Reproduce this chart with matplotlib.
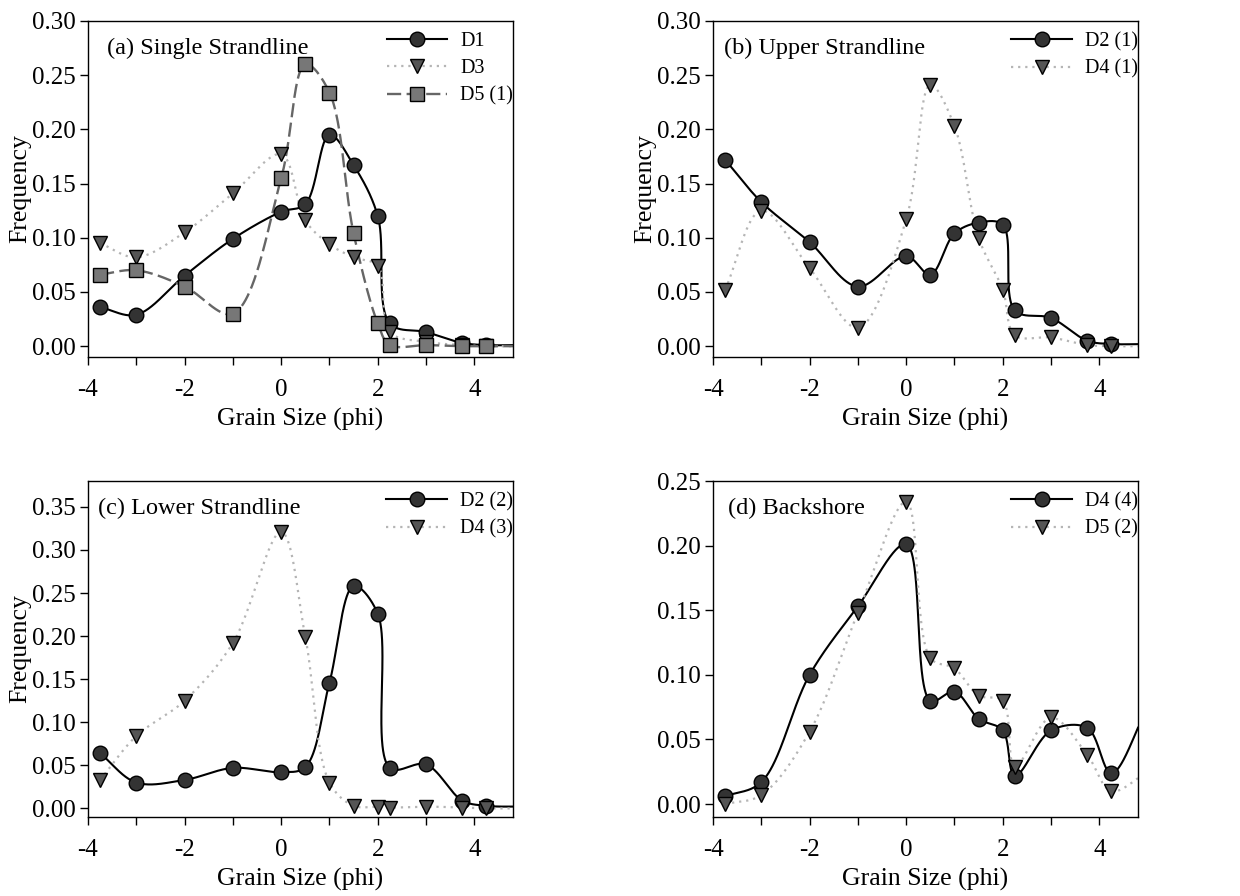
import numpy as np
import matplotlib
matplotlib.use("Agg")
import matplotlib.pyplot as plt
from matplotlib.ticker import MultipleLocator, FormatStrFormatter

plt.rcParams['font.family'] = ['Liberation Serif', 'DejaVu Serif']

# ---------------- data ----------------
# grain size classes (phi); last class (5.0) lies beyond the drawn axis range
phi = [-3.75, -3, -2, -1, 0, 0.5, 1, 1.5, 2, 2.25, 3, 3.75, 4.25, 5.0]

# (a) Single Strandline
a_D1 = [0.036, 0.029, 0.065, 0.099, 0.124, 0.131, 0.195, 0.167, 0.120, 0.021, 0.013, 0.003, 0.001, 0.001]
a_D3 = [0.095, 0.082, 0.105, 0.141, 0.177, 0.116, 0.094, 0.082, 0.074, 0.013, 0.004, 0.001, 0.000, 0.000]
a_D5 = [0.066, 0.070, 0.055, 0.030, 0.155, 0.260, 0.234, 0.104, 0.021, 0.001, 0.001, 0.000, 0.000, 0.000]

# (b) Upper Strandline
b_D2 = [0.172, 0.133, 0.096, 0.055, 0.083, 0.066, 0.104, 0.114, 0.112, 0.033, 0.026, 0.005, 0.002, 0.002]
b_D4 = [0.052, 0.125, 0.072, 0.017, 0.117, 0.241, 0.203, 0.100, 0.052, 0.010, 0.008, 0.001, 0.000, 0.000]

# (c) Lower Strandline
c_D2 = [0.064, 0.030, 0.033, 0.047, 0.042, 0.048, 0.146, 0.258, 0.226, 0.047, 0.051, 0.009, 0.003, 0.002]
c_D4 = [0.033, 0.084, 0.125, 0.192, 0.321, 0.199, 0.030, 0.003, 0.002, 0.001, 0.002, 0.001, 0.000, 0.000]

# (d) Backshore
d_D4 = [0.006, 0.017, 0.100, 0.153, 0.201, 0.080, 0.087, 0.066, 0.057, 0.022, 0.057, 0.059, 0.024, 0.075]
d_D5 = [0.000, 0.007, 0.056, 0.148, 0.234, 0.113, 0.105, 0.084, 0.080, 0.029, 0.067, 0.038, 0.010, 0.025]

panels = [
    dict(title="(a) Single Strandline", tx=0.045, ylim=(-0.01, 0.30), ylabel="Frequency",
         series=[("D1", a_D1, "circle"), ("D3", a_D3, "tri"), ("D5 (1)", a_D5, "square")]),
    dict(title="(b) Upper Strandline", tx=0.025, ylim=(-0.01, 0.30), ylabel="Frequency",
         series=[("D2 (1)", b_D2, "circle"), ("D4 (1)", b_D4, "tri")]),
    dict(title="(c) Lower Strandline", tx=0.023, ylim=(-0.01, 0.38), ylabel="Frequency",
         series=[("D2 (2)", c_D2, "circle"), ("D4 (3)", c_D4, "tri")]),
    dict(title="(d) Backshore", tx=0.035, ylim=(-0.01, 0.25), ylabel=None,
         series=[("D4 (4)", d_D4, "circle"), ("D5 (2)", d_D5, "tri")]),
]

styles = {
    "circle": dict(marker="o", mfc="#333333", color="black", ls="-", lw=1.5, ms=10.5),
    "tri": dict(marker="v", mfc="#555555", color="#b5b5b5", ls=(0, (1, 2.2)), lw=1.6, ms=10.5),
    "square": dict(marker="s", mfc="#777777", color="#666666", ls=(0, (6, 2.3)), lw=1.7, ms=9.5),
}

XLIM = (-4, 4.8)


def catmull_rom(P, alpha=0.5, nseg=200):
    """Centripetal Catmull-Rom curve through the 2-D points P (n x 2)."""
    P = np.vstack([2 * P[0] - P[1], P, 2 * P[-1] - P[-2]])
    out = []
    for i in range(1, len(P) - 2):
        p0, p1, p2, p3 = P[i - 1], P[i], P[i + 1], P[i + 2]
        t0 = 0.0
        t1 = t0 + max(np.linalg.norm(p1 - p0), 1e-6) ** alpha
        t2 = t1 + max(np.linalg.norm(p2 - p1), 1e-6) ** alpha
        t3 = t2 + max(np.linalg.norm(p3 - p2), 1e-6) ** alpha
        t = np.linspace(t1, t2, nseg)[:, None]
        A1 = (t1 - t) / (t1 - t0) * p0 + (t - t0) / (t1 - t0) * p1
        A2 = (t2 - t) / (t2 - t1) * p1 + (t - t1) / (t2 - t1) * p2
        A3 = (t3 - t) / (t3 - t2) * p2 + (t - t2) / (t3 - t2) * p3
        B1 = (t2 - t) / (t2 - t0) * A1 + (t - t0) / (t2 - t0) * A2
        B2 = (t3 - t) / (t3 - t1) * A2 + (t - t1) / (t3 - t1) * A3
        C = (t2 - t) / (t2 - t1) * B1 + (t - t1) / (t2 - t1) * B2
        out.append(C)
    return np.vstack(out)


def smooth_curve(x, y, ylim, W=425.0, H=336.0):
    x = np.asarray(x, float)
    y = np.asarray(y, float)
    X = (x - XLIM[0]) / (XLIM[1] - XLIM[0]) * W
    Y = (y - ylim[0]) / (ylim[1] - ylim[0]) * H
    C = catmull_rom(np.column_stack([X, Y]))
    xs = C[:, 0] / W * (XLIM[1] - XLIM[0]) + XLIM[0]
    ys = C[:, 1] / H * (ylim[1] - ylim[0]) + ylim[0]
    return xs, ys


fig = plt.figure(figsize=(12.4, 8.96), dpi=100)
pos = [(88, 21, 513, 357), (713, 21, 1138, 357), (88, 481, 513, 817), (713, 481, 1138, 817)]
FW, FH = 1240, 896

for p, (l, t_, r, b) in zip(panels, pos):
    ax = fig.add_axes([l / FW, 1 - b / FH, (r - l) / FW, (b - t_) / FH])
    handles = []
    for name, vals, kind in p["series"]:
        st = styles[kind]
        xs, ys = smooth_curve(phi, vals, p["ylim"])
        ax.plot(xs, ys, color=st["color"], ls=st["ls"], lw=st["lw"], zorder=2)
        ax.plot(phi, vals, ls="none", marker=st["marker"], ms=st["ms"], mfc=st["mfc"],
                mec="black", mew=1.0, zorder=3)
        h, = ax.plot([], [], color=st["color"], ls=st["ls"], lw=st["lw"], marker=st["marker"],
                     ms=st["ms"], mfc=st["mfc"], mec="black", mew=1.0)
        handles.append((h, name))
    ax.set_xlim(*XLIM)
    ax.set_ylim(*p["ylim"])
    ax.xaxis.set_major_locator(MultipleLocator(2))
    ax.xaxis.set_minor_locator(MultipleLocator(1))
    ax.yaxis.set_major_locator(MultipleLocator(0.05))
    ax.yaxis.set_major_formatter(FormatStrFormatter("%.2f"))
    ax.xaxis.set_major_formatter(FormatStrFormatter("%g"))
    ax.tick_params(which="both", direction="out", length=5.5, width=1.0, labelsize=18,
                   top=False, right=False, pad=3)
    ax.tick_params(axis="x", pad=10)
    for s in ax.spines.values():
        s.set_linewidth(1.0)
    ax.set_xlabel("Grain Size (phi)", fontsize=18.5, labelpad=5.5)
    if p["ylabel"]:
        ax.set_ylabel(p["ylabel"], fontsize=18.5, labelpad=0.5)
    ax.text(p["tx"], 0.918, p["title"], transform=ax.transAxes, fontsize=17.5,
            ha="left", va="center")
    leg = ax.legend([h for h, _ in handles], [n for _, n in handles], loc="upper right",
                    bbox_to_anchor=(1.0, 0.967), frameon=False, fontsize=14.5,
                    handlelength=3.0, handletextpad=0.65, borderaxespad=0.0,
                    borderpad=0.0, labelspacing=0.4)

fig.savefig("out.png", dpi=100)
